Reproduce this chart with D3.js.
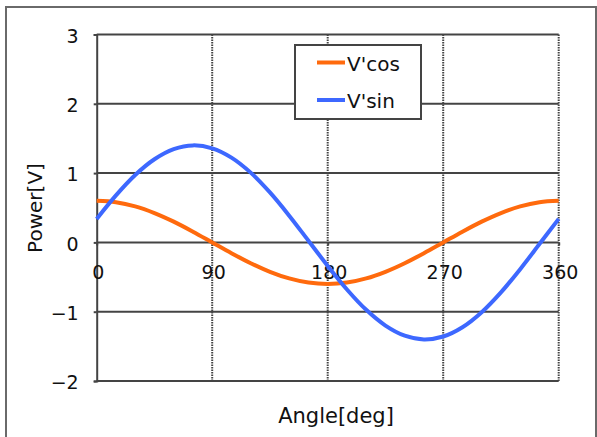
<!DOCTYPE html>
<html>
<head>
<meta charset="utf-8">
<script src="https://cdn.jsdelivr.net/npm/d3@7"></script>
<style>
  html, body { margin: 0; padding: 0; background: #fff; }
  svg { display: block; }
  text { font-family: "DejaVu Sans", "Liberation Sans", Arial, sans-serif; fill: #111; }
</style>
</head>
<body>
<svg id="chart" width="597" height="437"></svg>
<script>
// Angle samples (deg) and the two waveforms
const angles = [0, 15, 30, 45, 60, 75, 90, 105, 120, 135, 150, 165, 180,
                195, 210, 225, 240, 255, 270, 285, 300, 315, 330, 345, 360];
const vCos = [0.600, 0.580, 0.520, 0.424, 0.300, 0.155, 0.000, -0.155, -0.300, -0.424, -0.520, -0.580, -0.600,
              -0.580, -0.520, -0.424, -0.300, -0.155, 0.000, 0.155, 0.300, 0.424, 0.520, 0.580, 0.600];
const vSin = [0.339, 0.679, 0.973, 1.200, 1.346, 1.400, 1.358, 1.224, 1.007, 0.721, 0.386, 0.024, -0.339,
              -0.679, -0.973, -1.200, -1.346, -1.400, -1.358, -1.224, -1.007, -0.721, -0.386, -0.024, 0.339];
const seriesNames = ["V'cos", "V'sin"];
const seriesColors = ["#ff6a0d", "#3d68ff"];
const xTicks = [0, 90, 180, 270, 360];
const yTicks = [-2, -1, 0, 1, 2, 3];

const svg = d3.select("#chart");
const gridColor = "#444";

// outer frame
svg.append("rect")
  .attr("x", 6).attr("y", 7).attr("width", 590).attr("height", 440)
  .attr("fill", "none").attr("stroke", "#6a6a6a").attr("stroke-width", 2);

const x = d3.scaleLinear().domain([0, 360]).range([96.7, 558.7]);
const y = d3.scaleLinear().domain([-2, 3]).range([381, 34.5]);

const g = svg.append("g");

// horizontal grid lines (solid)
g.selectAll("line.hgrid").data(yTicks).join("line")
  .attr("class", "hgrid")
  .attr("x1", x(0)).attr("x2", x(360))
  .attr("y1", d => y(d)).attr("y2", d => y(d))
  .attr("stroke", gridColor).attr("stroke-width", 2);

// vertical grid lines (dotted)
g.selectAll("line.vgrid").data(xTicks.filter(d => d > 0)).join("line")
  .attr("class", "vgrid")
  .attr("x1", d => x(d)).attr("x2", d => x(d))
  .attr("y1", y(3)).attr("y2", y(-2))
  .attr("stroke", gridColor).attr("stroke-width", 2)
  .attr("stroke-dasharray", "1.5,1");

// left axis
const yAxis = d3.axisLeft(y).tickValues(yTicks).tickSize(3).tickFormat(d => d < 0 ? "\u2212" + Math.abs(d) : d);
const ya = g.append("g").attr("transform", `translate(${x(0)},0)`).call(yAxis);
ya.select(".domain").attr("stroke", gridColor).attr("stroke-width", 2);
ya.selectAll(".tick line").attr("stroke", gridColor).attr("stroke-width", 2);
ya.selectAll(".tick text")
  .attr("x", -18).attr("dy", "0.4em")
  .style("font-family", "'DejaVu Sans', sans-serif")
  .style("font-size", "19px").style("fill", "#111");

// x axis crossing at y = 0
const xAxis = d3.axisBottom(x).tickValues(xTicks).tickSize(3);
const xa = g.append("g").attr("transform", `translate(0,${y(0)})`).call(xAxis);
xa.select(".domain").remove();
xa.selectAll(".tick line").attr("stroke", gridColor).attr("stroke-width", 2);
xa.selectAll(".tick text")
  .attr("y", 37).attr("dy", 0).attr("dx", 1)
  .style("font-family", "'DejaVu Sans', sans-serif")
  .style("font-size", "19px").style("fill", "#111");

// curves
const line = d3.line()
  .x((d, i) => x(angles[i]))
  .y(d => y(d))
  .curve(d3.curveCatmullRom.alpha(0.5));

[vCos, vSin].forEach((vals, k) => {
  g.append("path").datum(vals)
    .attr("d", line)
    .attr("fill", "none")
    .attr("stroke", seriesColors[k])
    .attr("stroke-width", 4)
    .attr("stroke-linejoin", "round");
});

// legend
const lg = svg.append("g");
lg.append("rect")
  .attr("x", 295).attr("y", 45).attr("width", 126).attr("height", 74)
  .attr("fill", "#fff").attr("stroke", gridColor).attr("stroke-width", 2);
seriesNames.forEach((name, i) => {
  const yy = 62.5 + i * 37.5;
  lg.append("line")
    .attr("x1", 317).attr("x2", 345).attr("y1", yy).attr("y2", yy)
    .attr("stroke", seriesColors[i]).attr("stroke-width", 4);
  lg.append("text")
    .attr("x", 347).attr("y", yy + 8)
    .style("font-size", "20px")
    .text(name);
});

// axis titles
svg.append("text")
  .attr("transform", "translate(42,208) rotate(-90)")
  .attr("text-anchor", "middle")
  .style("font-size", "20px")
  .text("Power[V]");

svg.append("text")
  .attr("x", 336).attr("y", 423)
  .attr("text-anchor", "middle")
  .style("font-size", "21px")
  .text("Angle[deg]");
</script>
</body>
</html>
